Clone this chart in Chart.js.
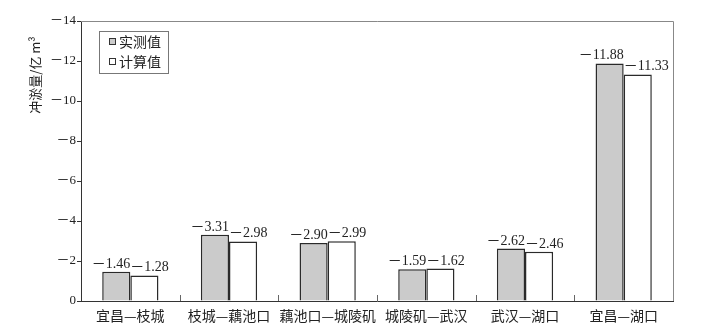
<!DOCTYPE html>
<html>
<head>
<meta charset="utf-8">
<script src="https://cdn.jsdelivr.net/npm/chart.js@4/dist/chart.umd.min.js"></script>
<style>
  html, body { margin: 0; padding: 0; background: #fff; }
  #wrap { width: 723px; height: 328px; position: relative; }
</style>
</head>
<body>
<div id="wrap"><canvas id="c"></canvas></div>
<script>
// River reaches (x categories)
const reaches = ['宜昌—枝城', '枝城—藕池口', '藕池口—城陵矶', '城陵矶—武汉', '武汉—湖口', '宜昌—湖口'];
// Scour volume, 10^8 m3 (magnitudes; shown with a minus sign)
const measured = [1.46, 3.31, 2.90, 1.59, 2.62, 11.88];
const computed = [1.28, 2.98, 2.99, 1.62, 2.46, 11.33];
const seriesNames = ['实测值', '计算值'];
const yTicks = [0, 2, 4, 6, 8, 10, 12, 14];
const yTitle = '冲淤量/亿 m³';

const MINUS = '－';
const INK = '#222';
const NUM_FONT = "14px 'Liberation Serif', 'Noto Sans CJK SC', serif";
const CJK_FONT = "13px 'Noto Sans CJK SC', sans-serif";

const decorPlugin = {
  id: 'decor',
  afterDraw(chart) {
    const ctx = chart.ctx;
    const area = chart.chartArea;
    const xs = chart.scales.x;

    ctx.save();
    // frame top and right
    ctx.strokeStyle = '#888';
    ctx.lineWidth = 1;
    ctx.beginPath();
    ctx.moveTo(area.left, area.top + 0.5);
    ctx.lineTo(area.right + 0.5, area.top + 0.5);
    ctx.lineTo(area.right + 0.5, area.bottom);
    ctx.stroke();

    // short separators between reaches along the bottom axis
    ctx.strokeStyle = '#666';
    ctx.beginPath();
    for (let i = 1; i < reaches.length; i++) {
      const x = Math.round((xs.getPixelForValue(i - 1) + xs.getPixelForValue(i)) / 2) + 0.5;
      ctx.moveTo(x, area.bottom);
      ctx.lineTo(x, area.bottom - 6);
    }
    ctx.stroke();

    // value labels above bars
    ctx.font = NUM_FONT;
    ctx.fillStyle = INK;
    ctx.textBaseline = 'alphabetic';
    chart.data.datasets.forEach((ds, di) => {
      const meta = chart.getDatasetMeta(di);
      meta.data.forEach((bar, i) => {
        const txt = MINUS + ds.data[i].toFixed(2);
        const half = bar.width / 2;
        if (di === 0) {
          ctx.textAlign = 'right';
          ctx.fillText(txt, bar.x + half, bar.y - 4);
        } else {
          ctx.textAlign = 'left';
          ctx.fillText(txt, bar.x - half, bar.y - 4);
        }
      });
    });

    // legend box
    const lx = area.left + 18, ly = area.top + 10, lw = 69, lh = 42;
    ctx.strokeStyle = '#777';
    ctx.lineWidth = 1;
    ctx.strokeRect(lx + 0.5, ly + 0.5, lw, lh);
    ctx.font = "14px 'Noto Sans CJK SC', sans-serif";
    ctx.textAlign = 'left';
    ctx.textBaseline = 'middle';
    chart.data.datasets.forEach((ds, di) => {
      const cy = ly + 11 + di * 20;
      ctx.fillStyle = ds.backgroundColor;
      ctx.fillRect(lx + 10.5, cy - 3.5, 6, 6);
      ctx.strokeStyle = '#333';
      ctx.strokeRect(lx + 10.5, cy - 3.5, 6, 6);
      ctx.fillStyle = INK;
      ctx.fillText(ds.label, lx + 20, cy);
    });

    // y-axis title
    ctx.save();
    ctx.translate(35, 75);
    ctx.rotate(-Math.PI / 2);
    ctx.font = CJK_FONT;
    ctx.textAlign = 'center';
    ctx.textBaseline = 'middle';
    ctx.fillStyle = INK;
    ctx.fillText(yTitle, 0, 0);
    ctx.restore();

    ctx.restore();
  }
};

new Chart(document.getElementById('c'), {
  type: 'bar',
  data: {
    labels: reaches,
    datasets: [
      { label: seriesNames[0], data: measured, backgroundColor: '#cbcbcb', borderColor: '#2a2a2a', borderWidth: 1.5 },
      { label: seriesNames[1], data: computed, backgroundColor: '#ffffff', borderColor: '#2a2a2a', borderWidth: 1.5 }
    ]
  },
  options: {
    responsive: true,
    maintainAspectRatio: false,
    animation: false,
    layout: { padding: { left: 0, right: 50, top: 21, bottom: 0 } },
    plugins: { legend: { display: false }, tooltip: { enabled: false } },
    datasets: { bar: { categoryPercentage: 0.57, barPercentage: 1.0 } },
    scales: {
      x: {
        grid: { display: false, drawTicks: false },
        border: { display: true, color: '#333', width: 1 },
        ticks: { color: INK, font: { family: "'Noto Sans CJK SC', sans-serif", size: 14 }, padding: 6, maxRotation: 0, autoSkip: false },
        afterFit: s => { s.height = 27; }
      },
      y: {
        min: 0,
        max: 14,
        afterBuildTicks: s => { s.ticks = yTicks.map(v => ({ value: v })); },
        grid: { display: true, drawOnChartArea: false, drawTicks: true, tickLength: 4, color: '#333' },
        border: { display: true, color: '#333', width: 1 },
        ticks: {
          color: INK,
          font: { family: "'Liberation Serif', 'Noto Sans CJK SC', serif", size: 13 },
          padding: 1,
          callback: v => (v === 0 ? '0' : MINUS + v)
        },
        afterFit: s => { s.width = 81; }
      }
    }
  },
  plugins: [decorPlugin]
});
</script>
</body>
</html>
